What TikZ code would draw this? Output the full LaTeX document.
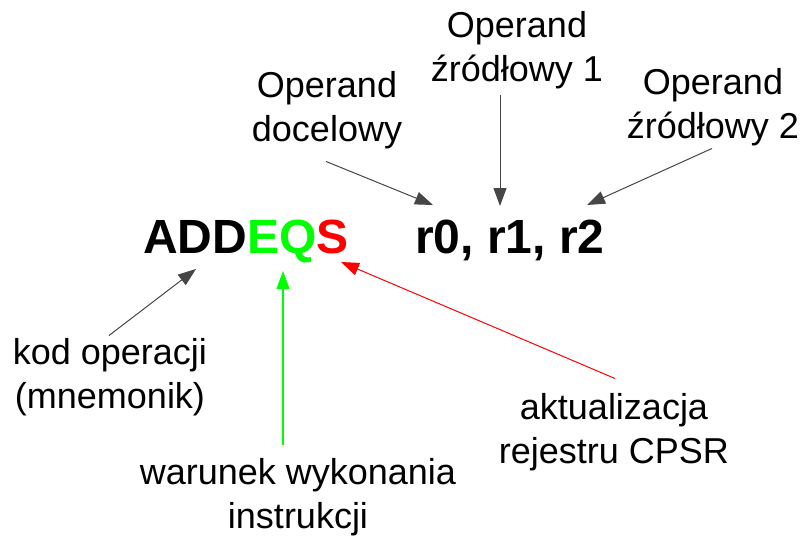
\documentclass[tikz,border=0pt]{standalone}
\usepackage{fontspec}
\setmainfont{Liberation Sans}
\usetikzlibrary{arrows.meta,calc}
\definecolor{grn}{RGB}{0,255,0}
\definecolor{rd}{RGB}{255,0,0}
\definecolor{rdline}{RGB}{255,110,110}
\definecolor{arrgray}{RGB}{70,70,70}
\begin{document}
\begin{tikzpicture}[x=1pt,y=-1pt,
  lbl/.style={font=\fontsize{36}{44}\selectfont, align=center, inner sep=0pt, anchor=north},
  instr/.style={font=\fontsize{48}{56}\selectfont\bfseries, inner sep=0pt, anchor=base west},
  arr/.style={draw=arrgray, line width=1pt, -{Triangle[length=18pt,width=13pt]}},
  garr/.style={draw=grn, line width=1.2pt, -{Triangle[length=18pt,width=13pt]}},
  rarr/.style={draw=rdline, line width=1pt, -{Triangle[length=18pt,width=13pt,fill=rd]}, rd}
]
\useasboundingbox (0,0) rectangle (807,536);
% instruction
\node[instr] (opc) at (143,253) {ADD\textcolor{grn}{EQ}\textcolor{rd}{S}};
\node[instr] (regs) at (415,253) {r0, r1, r2};
% labels
\node[lbl] (dst) at (327,71.5) {Operand\\docelowy};
\node[lbl] (op1) at (517,11.5) {Operand\\źródłowy 1};
\node[lbl] (op2) at (713,68.5) {Operand\\źródłowy 2};
\node[lbl] (kod) at (110,338.5) {kod operacji\\(mnemonik)};
\node[lbl] (war) at (298,458.5) {warunek wykonania\\instrukcji};
\node[lbl] (akt) at (614,393.5) {aktualizacja\\rejestru CPSR};
% arrow tips
\coordinate (tdst) at (433,205);
\coordinate (top1) at (500,206);
\coordinate (top2) at (587,205);
\coordinate (tkod) at (196,269);
\coordinate (twar) at (283,271);
\coordinate (takt) at (341,262);
% connectors
\draw[arr] ($(dst.south)+(-1,12)$) -- (tdst);
\draw[arr] ($(op1.south)+(-17,6)$) -- (top1);
\draw[arr] ($(op2.south)+(-1,2)$) -- (top2);
\draw[arr] ($(kod.north)+(-1,-3)$) -- (tkod);
\draw[garr] ($(war.north)+(-15,-14)$) -- (twar);
\draw[rarr] ($(akt.north)+(1,-15)$) -- (takt);
\end{tikzpicture}
\end{document}
